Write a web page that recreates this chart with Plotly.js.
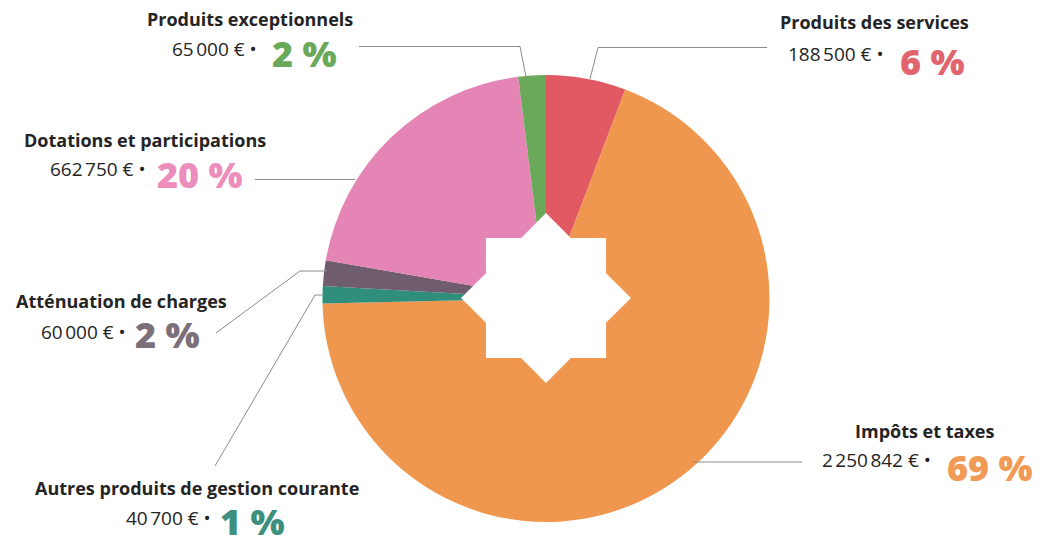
<!DOCTYPE html>
<html>
<head>
<meta charset="utf-8">
<script src="https://cdn.plot.ly/plotly-3.0.1.min.js"></script>
<style>html,body{margin:0;padding:0;background:#fff;}#chart{width:1051px;height:546px;}</style>
</head>
<body>
<div id="chart"></div>
<script>
// ---- data ----
var categories = ["Produits des services", "Impôts et taxes", "Autres produits de gestion courante", "Atténuation de charges", "Dotations et participations", "Produits exceptionnels"];
var amounts = [188500, 2250842, 40700, 60000, 662750, 65000];
var sliceColors = ["#e15a63", "#f0974f", "#2f8f7c", "#6f5c6d", "#e585b5", "#6aa85a"];
var pctColors = ["#e2646f", "#f19a55", "#3d8f7e", "#7b6f79", "#ec8dbb", "#6aa85a"];

// ---- layout helpers (label placement in pixels) ----
var W = 1051, H = 546;
function px(x) { return x / W; }
function py(y) { return 1 - y / H; }

// label positions: title centre, numbers right edge, percent left edge
var labelPos = [
  {tx: 875, ty: 22, nx: 886, ny: 54, pxl: 898, pyl: 61},
  {tx: 924, ty: 431, nx: 933, ny: 460, pxl: 945, pyl: 467},
  {tx: 197, ty: 488, nx: 213, ny: 518, pxl: 218, pyl: 521.5},
  {tx: 121, ty: 301, nx: 128, ny: 332, pxl: 133, pyl: 334},
  {tx: 145, ty: 140, nx: 148, ny: 169, pxl: 155, pyl: 175},
  {tx: 250, ty: 19, nx: 259, ny: 49, pxl: 270, pyl: 54}
];
// leader lines (pixels)
var leaders = [
  [[767, 47.5], [598, 47.5], [590, 79]],
  [[802, 462], [693, 462]],
  [[215, 466], [315, 295], [324, 295]],
  [[216, 333], [300, 271], [327, 271]],
  [[255, 179.5], [355, 179.5]],
  [[359, 46.5], [520, 46.5], [526, 77]]
];

var total = amounts.reduce(function (a, b) { return a + b; }, 0);
function fmt(n) {
  var s = String(n), out = "";
  while (s.length > 3) { out = "\u202F" + s.slice(-3) + out; s = s.slice(0, -3); }
  return s + out;
}

var annotations = [];
var shapes = [];
categories.forEach(function (c, i) {
  var p = labelPos[i];
  annotations.push({xref: "paper", yref: "paper", x: px(p.tx), y: py(p.ty), xanchor: "center", yanchor: "middle",
    text: "<b>" + c + "</b>", showarrow: false, font: {family: "Open Sans", size: 18, color: "#242424"}});
  annotations.push({xref: "paper", yref: "paper", x: px(p.nx), y: py(p.ny), xanchor: "right", yanchor: "middle",
    text: fmt(amounts[i]) + " € •", showarrow: false, font: {family: "Open Sans", size: 19, weight: 400, color: "#242424"}});
  annotations.push({xref: "paper", yref: "paper", x: px(p.pxl), y: py(p.pyl), xanchor: "left", yanchor: "middle",
    text: Math.round(amounts[i] / total * 100) + " %", showarrow: false, font: {family: "Open Sans", size: 36, weight: 800, color: pctColors[i]}});
  var L = leaders[i];
  var d = "M " + px(L[0][0]) + "," + py(L[0][1]);
  for (var k = 1; k < L.length; k++) d += " L " + px(L[k][0]) + "," + py(L[k][1]);
  shapes.push({type: "path", xref: "paper", yref: "paper", path: d, line: {color: "#8c8c8c", width: 1}, layer: "above"});
});

// star-shaped hole in the centre
var R = 85, r = 65, star = "";
for (var i = 0; i < 16; i++) {
  var a = i * Math.PI / 8, rr = (i % 2 === 0) ? R : r;
  star += (i === 0 ? "M " : " L ") + (rr * Math.sin(a)).toFixed(2) + "," + (rr * Math.cos(a)).toFixed(2);
}
star += " Z";
shapes.push({type: "path", xref: "paper", yref: "paper", xsizemode: "pixel", ysizemode: "pixel",
  xanchor: px(546), yanchor: py(298), path: star, fillcolor: "#ffffff", line: {width: 0}, layer: "above"});

var trace = {
  type: "pie",
  labels: categories,
  values: amounts,
  marker: {colors: sliceColors, line: {width: 0}},
  sort: false,
  direction: "clockwise",
  rotation: 0,
  textinfo: "none",
  hoverinfo: "none",
  showlegend: false,
  domain: {x: [px(322.5), px(769.5)], y: [py(522), py(75)]}
};

var layout = {
  width: W, height: H,
  margin: {l: 0, r: 0, t: 0, b: 0},
  paper_bgcolor: "#ffffff",
  plot_bgcolor: "#ffffff",
  showlegend: false,
  annotations: annotations,
  shapes: shapes
};

Plotly.newPlot("chart", [trace], layout, {displayModeBar: false, staticPlot: true});
</script>
</body>
</html>
